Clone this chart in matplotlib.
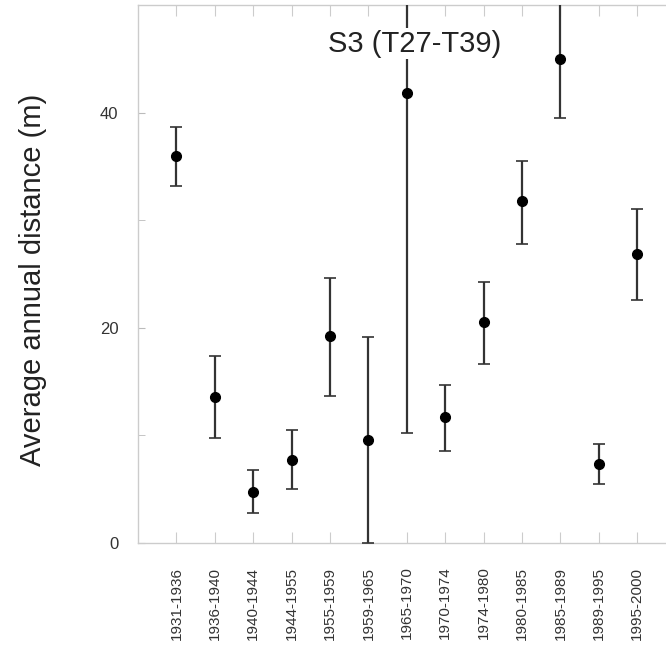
import matplotlib
matplotlib.use("Agg")
import matplotlib.pyplot as plt
import numpy as np

plt.rcParams['font.family'] = ['Liberation Sans', 'DejaVu Sans']

periods = ["1931-1936", "1936-1940", "1940-1944", "1944-1955", "1955-1959",
           "1959-1965", "1965-1970", "1970-1974", "1974-1980", "1980-1985",
           "1985-1989", "1989-1995", "1995-2000"]
means = [36.0, 13.6, 4.7, 7.7, 19.2, 9.6, 41.8, 11.7, 20.5, 31.8, 45.0, 7.3, 26.9]
upper = [38.7, 17.4, 6.8, 10.5, 24.6, 19.1, 73.4, 14.7, 24.3, 35.5, 50.5, 9.2, 31.0]
lower = [33.2, 9.8, 2.8, 5.0, 13.7, 0.0, 10.2, 8.55, 16.6, 27.8, 39.5, 5.5, 22.6]

fig = plt.figure(figsize=(6.66, 6.70), dpi=100)
ax = fig.add_axes([138/666, 1 - 543/670, (675.6 - 138)/666, (543 - 5)/670])

x = np.arange(1, len(periods) + 1)
m = np.array(means)
yerr = np.vstack([m - np.array(lower), np.array(upper) - m])
ax.errorbar(x, m, yerr=yerr, fmt='o', color='black', markersize=7,
            ecolor='#333333', elinewidth=1.6, capsize=4, capthick=1.2, zorder=3)

ax.set_xlim(0, 14)
ax.set_ylim(0, 50)
ax.set_xticks(x)
ax.set_xticklabels(periods, rotation=90, fontsize=11, color='#333333')
ax.set_yticks([0, 20, 40])
ax.set_yticks([10, 30], minor=True)
ax.tick_params(axis='y', labelsize=12, labelcolor='#333333', direction='in',
               length=5, color='#bbbbbb', left=True, right=False, pad=14)
ax.tick_params(axis='y', which='minor', direction='in', length=5, color='#bbbbbb')
ax.tick_params(axis='x', direction='in', length=8, color='#cccccc',
               top=True, bottom=True, pad=17)

for s in ax.spines.values():
    s.set_color('#cccccc')
    s.set_linewidth(1.0)

ax.set_ylabel("Average annual distance (m)", fontsize=21, color='#222222')
ax.yaxis.set_label_coords(-(138 - 47) / 537.6, 0.489)

ax.text(7.21, 46.4, "S3 (T27-T39)", fontsize=21, color='#222222',
        ha='center', va='center', zorder=4,
        bbox=dict(facecolor='white', edgecolor='none', pad=1))

fig.savefig("out.png", dpi=100, facecolor='white')
